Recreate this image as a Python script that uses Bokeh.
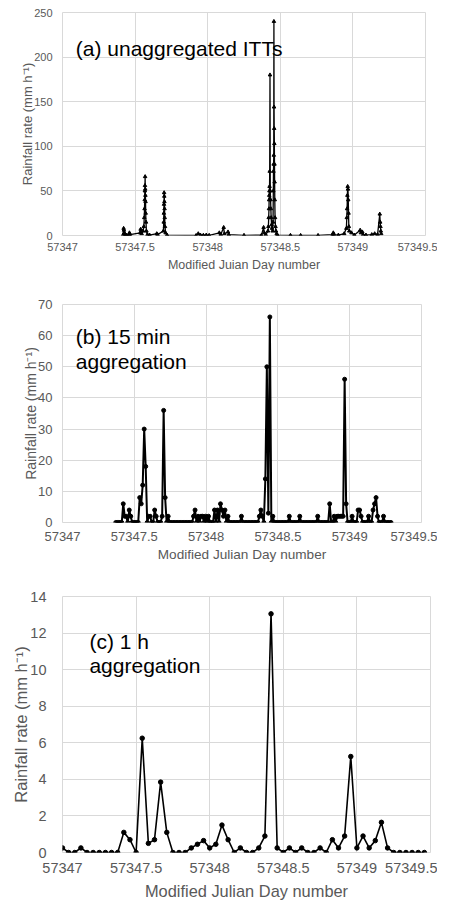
from bokeh.plotting import figure
from bokeh.models import Range1d, FixedTicker, CustomJSTickFormatter, Label, ColumnDataSource
from bokeh.layouts import column
from bokeh.embed import file_html
from bokeh.resources import INLINE

# ---------------- data ----------------
x_ticks = [57347, 57347.5, 57348, 57348.5, 57349, 57349.5]

# (a) unaggregated inter-tip times (MJD, rain rate mm/h)
a_x = [57347.418, 57347.421, 57347.423, 57347.426, 57347.430, 57347.440, 57347.458, 57347.461, 57347.465,
       57347.535, 57347.538, 57347.541, 57347.545, 57347.555, 57347.560, 57347.563, 57347.565, 57347.566,
       57347.567, 57347.568, 57347.569, 57347.570, 57347.571, 57347.572, 57347.573, 57347.575, 57347.578,
       57347.585, 57347.600, 57347.649, 57347.655,
       57347.695, 57347.697, 57347.698, 57347.699, 57347.700, 57347.701, 57347.702, 57347.703, 57347.704,
       57347.706, 57347.710, 57347.720,
       57347.920, 57347.935, 57347.950, 57347.970, 57347.990, 57348.010,
       57348.080, 57348.090, 57348.110, 57348.115, 57348.140, 57348.145, 57348.250,
       57348.370, 57348.385, 57348.390, 57348.400,
       57348.415, 57348.418, 57348.420, 57348.422, 57348.423, 57348.424, 57348.425, 57348.426, 57348.427,
       57348.429, 57348.431, 57348.433, 57348.435, 57348.437, 57348.440, 57348.443, 57348.447,
       57348.450, 57348.452, 57348.453, 57348.454, 57348.455, 57348.456, 57348.457, 57348.458, 57348.459,
       57348.460, 57348.461, 57348.462, 57348.464, 57348.467, 57348.470, 57348.475, 57348.480,
       57348.570, 57348.640, 57348.760,
       57348.860, 57348.865, 57348.870, 57348.900, 57348.940, 57348.955, 57348.958, 57348.960, 57348.962,
       57348.964, 57348.966, 57348.968, 57348.970, 57348.972, 57348.975, 57348.990, 57349.010,
       57349.050, 57349.055, 57349.065, 57349.070, 57349.090,
       57349.130, 57349.150, 57349.170, 57349.185, 57349.188, 57349.190, 57349.192, 57349.195]
a_y = [1, 8, 6, 3, 1, 0.5, 1, 3, 1,
       3, 7, 4, 2, 5, 10, 20, 30, 40,
       50, 56, 66, 52, 45, 38, 25, 15, 5,
       1, 0.5, 2, 1,
       5, 15, 25, 35, 48, 44, 38, 30, 20,
       10, 3, 0.5,
       0, 2, 0.5, 0.3, 0.5, 0.2,
       3, 1, 9, 2, 4, 1, 0.2,
       0.3, 9, 3, 1,
       5, 10, 20, 30, 40, 45, 50, 55, 72,
       180, 50, 40, 30, 20, 12, 8, 5,
       15, 50, 72, 80, 90, 240, 144, 120, 103,
       80, 60, 40, 20, 10, 5, 2, 0.5,
       0.2, 0.1, 0.1,
       1, 3, 1, 0.5, 2, 8, 20, 30, 45,
       55, 52, 40, 25, 10, 5, 3, 0.5,
       6, 3, 4, 1, 0.5,
       1, 2, 1, 24, 15, 10, 5, 2]

# (b) 15 min aggregation, starting MJD and values every 15 min
b_start = 57347.371
b_step = 1.0 / 96.0
b_y = [0, 0, 0, 0, 0, 6, 2, 2, 0, 4,
       2, 0, 0, 0, 0, 0, 8, 6, 12, 30,
       18, 0, 2, 2, 0, 0, 4, 2, 0, 0,
       0, 2, 36, 8, 0, 2, 0, 0, 0, 0,
       0, 0, 0, 0, 0, 0, 0, 0, 0, 0,
       0, 0, 2, 4, 0, 2, 0, 2, 2, 0,
       2, 0, 2, 0, 0, 0, 4, 0, 4, 0,
       6, 4, 2, 4, 0, 2, 0, 0, 0, 0,
       0, 0, 0, 0, 2, 0, 0, 0, 0, 0,
       0, 0, 0, 0, 0, 0, 2, 4, 2, 0,
       14, 50, 3, 66, 0, 2, 0, 0, 0, 0,
       0, 0, 0, 0, 0, 0, 2, 0, 0, 0,
       0, 0, 0, 2, 0, 0, 0, 0, 0, 0,
       0, 0, 0, 0, 0, 2, 0, 0, 0, 0,
       0, 0, 0, 6, 0, 0, 2, 0, 2, 2,
       2, 2, 2, 46, 6, 0, 0, 0, 2, 0,
       0, 0, 4, 4, 2, 0, 0, 0, 0, 2,
       0, 0, 4, 6, 8, 2, 0, 0, 0, 2,
       0, 0, 0, 0, 0]
b_x = [b_start + i * b_step for i in range(len(b_y))]

# (c) 1 h aggregation, hourly from MJD 57347.0
c_start = 57347.0
c_step = 1.0 / 24.0
c_y = [0.25, 0, 0, 0.25, 0, 0, 0, 0, 0, 0,
       1.1, 0.7, 0, 6.25, 0.5, 0.7, 3.85, 1.1, 0, 0,
       0, 0.25, 0.45, 0.65, 0.25, 0.45, 1.5, 0.7, 0, 0.25,
       0, 0, 0.25, 0.9, 13.05, 0.25, 0, 0.25, 0, 0.25,
       0, 0, 0.25, 0, 0.7, 0.25, 0.9, 5.25, 0.25, 0.9,
       0.25, 0.65, 1.65, 0.25, 0, 0, 0, 0, 0, 0]
c_x = [c_start + i * c_step for i in range(len(c_y))]

a_yticks = [0, 50, 100, 150, 200, 250]
b_yticks = [0, 10, 20, 30, 40, 50, 60, 70]
c_yticks = [0, 2, 4, 6, 8, 10, 12, 14]

YLABEL = "Rainfall rate (mm h\u207b\u00b9)"

# ---------------- styling ----------------
FONT = "Liberation Sans"
GRID = "#d9d9d9"
TXT = "#595959"


def make_fig(fw, fh, bl, bt, bb, br, yend, yticks, tick_fs, xlab_fs, ylab_fs,
             xlabel, x_stand, xlab_stand, y_stand, ylab_stand):
    p = figure(frame_width=fw, frame_height=fh,
               x_range=Range1d(57347, 57349.5), y_range=Range1d(0, yend),
               output_backend="svg", toolbar_location=None,
               min_border_left=bl, min_border_top=bt, min_border_bottom=bb,
               min_border_right=br)
    p.background_fill_color = "white"
    p.border_fill_color = "white"
    p.outline_line_color = GRID
    p.outline_line_width = 1
    p.xaxis.ticker = FixedTicker(ticks=x_ticks)
    p.yaxis.ticker = FixedTicker(ticks=yticks)
    p.xaxis.formatter = CustomJSTickFormatter(code="return String(tick);")
    for ax in (p.xaxis, p.yaxis):
        ax.axis_line_color = None
        ax.major_tick_line_color = None
        ax.minor_tick_line_color = None
        ax.major_tick_out = 0
        ax.major_tick_in = 0
        ax.minor_tick_out = 0
        ax.minor_tick_in = 0
        ax.major_label_text_font = FONT
        ax.major_label_text_font_size = tick_fs
        ax.major_label_text_color = TXT
        ax.axis_label_text_font = FONT
        ax.axis_label_text_font_style = "normal"
        ax.axis_label_text_color = TXT
    p.xaxis.axis_label = xlabel
    p.xaxis.axis_label_text_font_size = xlab_fs
    p.yaxis.axis_label = YLABEL
    p.yaxis.axis_label_text_font_size = ylab_fs
    p.xaxis.major_label_standoff = x_stand
    p.xaxis.axis_label_standoff = xlab_stand
    p.yaxis.major_label_standoff = y_stand
    p.yaxis.axis_label_standoff = ylab_stand
    p.xgrid.grid_line_color = GRID
    p.ygrid.grid_line_color = GRID
    p.xgrid.grid_line_width = 1
    p.ygrid.grid_line_width = 1
    return p


def add_label(p, x, y, text):
    p.add_layout(Label(x=x, y=y, text=text, text_font=FONT, text_font_size="21px",
                       text_color="black", text_baseline="alphabetic", text_align="left"))


# panel (a)
pa = make_fig(363, 223, 62, 12, 61, 12, 250, a_yticks, "11px", "12.5px", "13px",
              "Modified Juian Day number", 7, 4, 10, -4)
src_a = ColumnDataSource(dict(x=a_x, y=a_y))
pa.line("x", "y", source=src_a, line_color="black", line_width=1.3)
pa.scatter("x", "y", source=src_a, marker="triangle", size=3.5, fill_color="black", line_color="black")
add_label(pa, 57347.0915, 210.0, "(a) unaggregated ITTs")

# panel (b)
pb = make_fig(359, 218, 62, 8, 68, 16, 70, b_yticks, "13px", "13.6px", "14px",
              "Modified Julian Day number", 9, 3, 10, -4)
src_b = ColumnDataSource(dict(x=b_x, y=b_y))
pb.line("x", "y", source=src_b, line_color="black", line_width=2)
pb.scatter("x", "y", source=src_b, marker="circle", size=4, fill_color="black", line_color="black")
add_label(pb, 57347.0926, 59.8, "(b) 15 min")
add_label(pb, 57347.0926, 51.8, "aggregation")

# panel (c)
pc = make_fig(368, 256, 59, 6, 48, 10, 14, c_yticks, "14.5px", "16.4px", "16.5px",
              "Modified Julian Day number", 10, 6, 16, -3)
src_c = ColumnDataSource(dict(x=c_x, y=c_y))
pc.line("x", "y", source=src_c, line_color="black", line_width=1.6)
pc.scatter("x", "y", source=src_c, marker="circle", size=4.5, fill_color="black", line_color="black")
add_label(pc, 57347.183, 11.56, "(c) 1 h")
add_label(pc, 57347.183, 10.2, "aggregation")

layout = column(pa, pb, pc, spacing=0)

open("out.html", "w").write(file_html(layout, INLINE))
